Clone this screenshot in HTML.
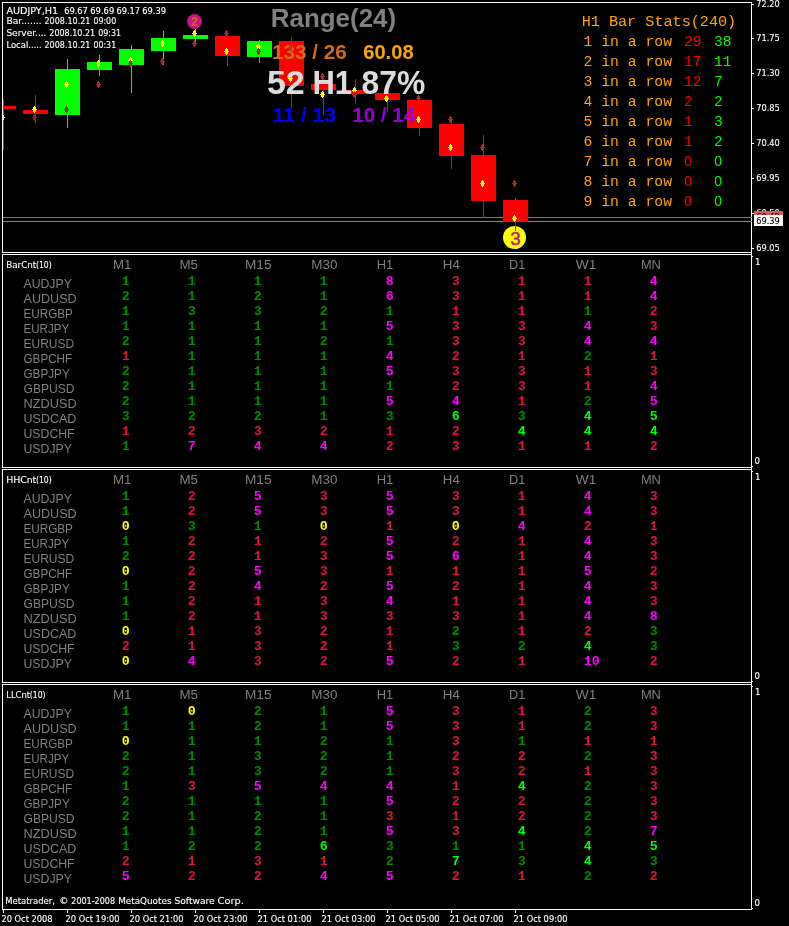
<!DOCTYPE html>
<html><head><meta charset="utf-8"><title>AUDJPY,H1</title>
<style>
html,body{margin:0;padding:0;background:#000;overflow:hidden}
svg{display:block;will-change:transform}
text{white-space:pre}
.t{font-family:"DejaVu Sans Condensed","Liberation Sans",sans-serif;font-size:9.5px;stroke-width:0.12px}
.a{font-family:"Liberation Sans",sans-serif}
.ab{font-family:"Liberation Sans",sans-serif;font-weight:bold}
.m{font-family:"Liberation Mono",monospace;font-size:14.67px}
.n{font-family:"Liberation Mono",monospace;font-weight:bold;font-size:13.33px}
</style></head>
<body>
<svg width="789" height="926" viewBox="0 0 789 926">
<rect width="789" height="926" fill="#000"/>
<g shape-rendering="crispEdges">
<rect x="2" y="2" width="1" height="908" fill="#fff"/>
<rect x="751" y="2" width="1" height="908" fill="#fff"/>
<rect x="2" y="2" width="750" height="1" fill="#fff"/>
<rect x="2" y="252" width="750" height="1" fill="#fff"/>
<rect x="2" y="254" width="750" height="1" fill="#fff"/>
<rect x="2" y="467" width="750" height="1" fill="#fff"/>
<rect x="2" y="469" width="750" height="1" fill="#fff"/>
<rect x="2" y="682" width="750" height="1" fill="#fff"/>
<rect x="2" y="684" width="750" height="1" fill="#fff"/>
<rect x="2" y="909" width="750" height="1" fill="#fff"/>
<rect x="2" y="253" width="1" height="1" fill="#000"/>
<rect x="2" y="468" width="1" height="1" fill="#000"/>
<rect x="2" y="683" width="1" height="1" fill="#000"/>
<rect x="752" y="4" width="2" height="1" fill="#fff"/>
<rect x="752" y="38" width="2" height="1" fill="#fff"/>
<rect x="752" y="73" width="2" height="1" fill="#fff"/>
<rect x="752" y="108" width="2" height="1" fill="#fff"/>
<rect x="752" y="143" width="2" height="1" fill="#fff"/>
<rect x="752" y="178" width="2" height="1" fill="#fff"/>
<rect x="752" y="213" width="2" height="1" fill="#fff"/>
<rect x="752" y="248" width="2" height="1" fill="#fff"/>
<rect x="752" y="256" width="1" height="1" fill="#fff"/>
<rect x="752" y="466" width="1" height="1" fill="#fff"/>
<rect x="752" y="471" width="1" height="1" fill="#fff"/>
<rect x="752" y="681" width="1" height="1" fill="#fff"/>
<rect x="752" y="686" width="1" height="1" fill="#fff"/>
<rect x="752" y="908" width="1" height="1" fill="#fff"/>
<rect x="3" y="910" width="1" height="3" fill="#fff"/>
<rect x="67" y="910" width="1" height="3" fill="#fff"/>
<rect x="131" y="910" width="1" height="3" fill="#fff"/>
<rect x="195" y="910" width="1" height="3" fill="#fff"/>
<rect x="259" y="910" width="1" height="3" fill="#fff"/>
<rect x="323" y="910" width="1" height="3" fill="#fff"/>
<rect x="387" y="910" width="1" height="3" fill="#fff"/>
<rect x="451" y="910" width="1" height="3" fill="#fff"/>
<rect x="515" y="910" width="1" height="3" fill="#fff"/>
</g>
<g shape-rendering="crispEdges">
<rect x="3" y="217" width="749" height="1" fill="#c8585c"/>
<rect x="3" y="221" width="749" height="1" fill="#778899"/>
</g>
<clipPath id="cp"><rect x="3" y="3" width="748" height="249"/></clipPath>
<g clip-path="url(#cp)">
<g shape-rendering="crispEdges">
<rect x="3" y="99" width="1" height="51" fill="#ff0000"/>
<rect x="3" y="106" width="13" height="3" fill="#ff0000"/>
<rect x="35" y="95" width="1" height="28" fill="#ff0000"/>
<rect x="23" y="110" width="25" height="4" fill="#ff0000"/>
<rect x="67" y="59" width="1" height="69" fill="#00ff00"/>
<rect x="55" y="69" width="25" height="46" fill="#00ff00"/>
<rect x="99" y="55" width="1" height="21" fill="#00ff00"/>
<rect x="87" y="62" width="25" height="8" fill="#00ff00"/>
<rect x="131" y="45" width="1" height="48" fill="#00ff00"/>
<rect x="119" y="49" width="25" height="16" fill="#00ff00"/>
<rect x="163" y="31" width="1" height="34" fill="#00ff00"/>
<rect x="151" y="38" width="25" height="13" fill="#00ff00"/>
<rect x="195" y="29" width="1" height="12" fill="#00ff00"/>
<rect x="183" y="35" width="25" height="4" fill="#00ff00"/>
<rect x="227" y="33" width="1" height="33" fill="#ff0000"/>
<rect x="215" y="36" width="25" height="20" fill="#ff0000"/>
<rect x="259" y="40" width="1" height="23" fill="#00ff00"/>
<rect x="247" y="41" width="25" height="16" fill="#00ff00"/>
<rect x="291" y="37" width="1" height="72" fill="#ff0000"/>
<rect x="279" y="41" width="25" height="45" fill="#ff0000"/>
<rect x="323" y="77" width="1" height="38" fill="#ff0000"/>
<rect x="311" y="84" width="25" height="6" fill="#ff0000"/>
<rect x="355" y="79" width="1" height="25" fill="#ff0000"/>
<rect x="343" y="90" width="25" height="4" fill="#ff0000"/>
<rect x="387" y="90" width="1" height="22" fill="#ff0000"/>
<rect x="375" y="93" width="25" height="7" fill="#ff0000"/>
<rect x="419" y="99" width="1" height="37" fill="#ff0000"/>
<rect x="407" y="100" width="25" height="28" fill="#ff0000"/>
<rect x="451" y="119" width="1" height="50" fill="#ff0000"/>
<rect x="439" y="124" width="25" height="32" fill="#ff0000"/>
<rect x="483" y="135" width="1" height="83" fill="#ff0000"/>
<rect x="471" y="155" width="25" height="46" fill="#ff0000"/>
<rect x="515" y="198" width="1" height="29" fill="#ff0000"/>
<rect x="503" y="200" width="25" height="22" fill="#ff0000"/>
</g>
<path shape-rendering="crispEdges" fill="#ffff00" d="M290 75h1v1h1v2h1v1h-1v2h-1v1h-1v-1h-1v-2h-1v-1h1v-2h1z"/>
<text x="270.8" y="26.8" class="ab" fill="#808080" textLength="125.3" lengthAdjust="spacingAndGlyphs" font-size="26.5">Range(24)</text>
<text x="272.1" y="59" class="ab" fill="#d2691e" textLength="74.7" lengthAdjust="spacingAndGlyphs" font-size="21">133 / 26</text>
<text x="363.2" y="59" class="ab" fill="#ffa500" textLength="50.4" lengthAdjust="spacingAndGlyphs" font-size="21">60.08</text>
<text x="266.9" y="94" class="ab" fill="#dcdcdc" textLength="37.8" lengthAdjust="spacingAndGlyphs" font-size="34">52</text>
<text x="312.5" y="94" class="ab" fill="#dcdcdc" textLength="39.6" lengthAdjust="spacingAndGlyphs" font-size="34">H1</text>
<text x="361.5" y="94" class="ab" fill="#dcdcdc" textLength="63.7" lengthAdjust="spacingAndGlyphs" font-size="34">87%</text>
<text x="272.4" y="122" class="ab" fill="#0000ff" textLength="63.6" lengthAdjust="spacingAndGlyphs" font-size="21">11 / 13</text>
<text x="352.2" y="122" class="ab" fill="#9400d3" textLength="63" lengthAdjust="spacingAndGlyphs" font-size="21">10 / 14</text>
<path shape-rendering="crispEdges" fill="#a52a2a" d="M2 99h1v1h1v2h1v1h-1v2h-1v1h-1v-1h-1v-2h-1v-1h1v-2h1z"/>
<path shape-rendering="crispEdges" fill="#ffff00" d="M2 114h1v1h1v2h1v1h-1v2h-1v1h-1v-1h-1v-2h-1v-1h1v-2h1z"/>
<path shape-rendering="crispEdges" fill="#8b2525" d="M34 114h1v1h1v2h1v1h-1v2h-1v1h-1v-1h-1v-2h-1v-1h1v-2h1z"/>
<path shape-rendering="crispEdges" fill="#ffff00" d="M34 106h1v1h1v2h1v1h-1v2h-1v1h-1v-1h-1v-2h-1v-1h1v-2h1z"/>
<path shape-rendering="crispEdges" fill="#ffff00" d="M66 81h1v1h1v2h1v1h-1v2h-1v1h-1v-1h-1v-2h-1v-1h1v-2h1z"/>
<path shape-rendering="crispEdges" fill="#a52a2a" d="M66 106h1v1h1v2h1v1h-1v2h-1v1h-1v-1h-1v-2h-1v-1h1v-2h1z"/>
<path shape-rendering="crispEdges" fill="#ffff00" d="M98 60h1v1h1v2h1v1h-1v2h-1v1h-1v-1h-1v-2h-1v-1h1v-2h1z"/>
<path shape-rendering="crispEdges" fill="#a52a2a" d="M98 81h1v1h1v2h1v1h-1v2h-1v1h-1v-1h-1v-2h-1v-1h1v-2h1z"/>
<path shape-rendering="crispEdges" fill="#ffff00" d="M130 57h1v1h1v2h1v1h-1v2h-1v1h-1v-1h-1v-2h-1v-1h1v-2h1z"/>
<path shape-rendering="crispEdges" fill="#a52a2a" d="M130 60h1v1h1v2h1v1h-1v2h-1v1h-1v-1h-1v-2h-1v-1h1v-2h1z"/>
<path shape-rendering="crispEdges" fill="#ffff00" d="M162 40h1v1h1v2h1v1h-1v2h-1v1h-1v-1h-1v-2h-1v-1h1v-2h1z"/>
<path shape-rendering="crispEdges" fill="#a52a2a" d="M162 58h1v1h1v2h1v1h-1v2h-1v1h-1v-1h-1v-2h-1v-1h1v-2h1z"/>
<path shape-rendering="crispEdges" fill="#ffff00" d="M194 30h1v1h1v2h1v1h-1v2h-1v1h-1v-1h-1v-2h-1v-1h1v-2h1z"/>
<path shape-rendering="crispEdges" fill="#a52a2a" d="M194 40h1v1h1v2h1v1h-1v2h-1v1h-1v-1h-1v-2h-1v-1h1v-2h1z"/>
<path shape-rendering="crispEdges" fill="#a52a2a" d="M226 30h1v1h1v2h1v1h-1v2h-1v1h-1v-1h-1v-2h-1v-1h1v-2h1z"/>
<path shape-rendering="crispEdges" fill="#ffff00" d="M226 48h1v1h1v2h1v1h-1v2h-1v1h-1v-1h-1v-2h-1v-1h1v-2h1z"/>
<path shape-rendering="crispEdges" fill="#ffff00" d="M258 43h1v1h1v2h1v1h-1v2h-1v1h-1v-1h-1v-2h-1v-1h1v-2h1z"/>
<path shape-rendering="crispEdges" fill="#a52a2a" d="M258 48h1v1h1v2h1v1h-1v2h-1v1h-1v-1h-1v-2h-1v-1h1v-2h1z"/>
<path shape-rendering="crispEdges" fill="#b03a30" d="M290 44h1v1h1v2h1v1h-1v2h-1v1h-1v-1h-1v-2h-1v-1h1v-2h1z"/>
<path shape-rendering="crispEdges" fill="#a52a2a" d="M322 73h1v1h1v2h1v1h-1v2h-1v1h-1v-1h-1v-2h-1v-1h1v-2h1z"/>
<path shape-rendering="crispEdges" fill="#ffff00" d="M322 91h1v1h1v2h1v1h-1v2h-1v1h-1v-1h-1v-2h-1v-1h1v-2h1z"/>
<path shape-rendering="crispEdges" fill="#ffff00" d="M354 87h1v1h1v2h1v1h-1v2h-1v1h-1v-1h-1v-2h-1v-1h1v-2h1z"/>
<path shape-rendering="crispEdges" fill="#a52a2a" d="M354 91h1v1h1v2h1v1h-1v2h-1v1h-1v-1h-1v-2h-1v-1h1v-2h1z"/>
<path shape-rendering="crispEdges" fill="#ffff00" d="M386 95h1v1h1v2h1v1h-1v2h-1v1h-1v-1h-1v-2h-1v-1h1v-2h1z"/>
<path shape-rendering="crispEdges" fill="#a52a2a" d="M418 95h1v1h1v2h1v1h-1v2h-1v1h-1v-1h-1v-2h-1v-1h1v-2h1z"/>
<path shape-rendering="crispEdges" fill="#ffff00" d="M418 116h1v1h1v2h1v1h-1v2h-1v1h-1v-1h-1v-2h-1v-1h1v-2h1z"/>
<path shape-rendering="crispEdges" fill="#a52a2a" d="M450 116h1v1h1v2h1v1h-1v2h-1v1h-1v-1h-1v-2h-1v-1h1v-2h1z"/>
<path shape-rendering="crispEdges" fill="#ffff00" d="M450 144h1v1h1v2h1v1h-1v2h-1v1h-1v-1h-1v-2h-1v-1h1v-2h1z"/>
<path shape-rendering="crispEdges" fill="#a52a2a" d="M482 144h1v1h1v2h1v1h-1v2h-1v1h-1v-1h-1v-2h-1v-1h1v-2h1z"/>
<path shape-rendering="crispEdges" fill="#ffff00" d="M482 180h1v1h1v2h1v1h-1v2h-1v1h-1v-1h-1v-2h-1v-1h1v-2h1z"/>
<path shape-rendering="crispEdges" fill="#a52a2a" d="M514 180h1v1h1v2h1v1h-1v2h-1v1h-1v-1h-1v-2h-1v-1h1v-2h1z"/>
<path shape-rendering="crispEdges" fill="#ffff00" d="M514 215h1v1h1v2h1v1h-1v2h-1v1h-1v-1h-1v-2h-1v-1h1v-2h1z"/>
</g>
<circle cx="194.5" cy="21.5" r="7.5" fill="#c71585"/>
<text x="194.5" y="26" class="ab" fill="#d2691e" text-anchor="middle" font-size="12">2</text>
<circle cx="514.5" cy="237.5" r="11.5" fill="#ffff00"/>
<rect shape-rendering="crispEdges" x="515" y="226" width="1" height="5" fill="#ff0000"/>
<text x="515.5" y="244.5" class="a" fill="#c71585" text-anchor="middle" font-size="19" stroke="#c71585" stroke-width="0.5">3</text>
<text x="6.4" y="14" class="t" fill="#fff" stroke="#fff" textLength="51.8" lengthAdjust="spacingAndGlyphs">AUDJPY,H1</text>
<text x="64.2" y="14" class="t" fill="#fff" stroke="#fff" textLength="23.7" lengthAdjust="spacingAndGlyphs">69.67</text>
<text x="90.3" y="14" class="t" fill="#fff" stroke="#fff" textLength="23.9" lengthAdjust="spacingAndGlyphs">69.69</text>
<text x="116.5" y="14" class="t" fill="#fff" stroke="#fff" textLength="23.6" lengthAdjust="spacingAndGlyphs">69.17</text>
<text x="142.3" y="14" class="t" fill="#fff" stroke="#fff" textLength="23.6" lengthAdjust="spacingAndGlyphs">69.39</text>
<text x="6.4" y="24" class="t" fill="#fff" stroke="#fff" textLength="35.3" lengthAdjust="spacingAndGlyphs">Bar.......</text>
<text x="44.5" y="24" class="t" fill="#fff" stroke="#fff" textLength="45.9" lengthAdjust="spacingAndGlyphs">2008.10.21</text>
<text x="93.4" y="24" class="t" fill="#fff" stroke="#fff" textLength="22.8" lengthAdjust="spacingAndGlyphs">09:00</text>
<text x="6.4" y="36" class="t" fill="#fff" stroke="#fff" textLength="40.1" lengthAdjust="spacingAndGlyphs">Server....</text>
<text x="49.3" y="36" class="t" fill="#fff" stroke="#fff" textLength="45.9" lengthAdjust="spacingAndGlyphs">2008.10.21</text>
<text x="98.2" y="36" class="t" fill="#fff" stroke="#fff" textLength="22.8" lengthAdjust="spacingAndGlyphs">09:31</text>
<text x="6.4" y="48" class="t" fill="#fff" stroke="#fff" textLength="35.3" lengthAdjust="spacingAndGlyphs">Local.....</text>
<text x="44.5" y="48" class="t" fill="#fff" stroke="#fff" textLength="45.9" lengthAdjust="spacingAndGlyphs">2008.10.21</text>
<text x="93.4" y="48" class="t" fill="#fff" stroke="#fff" textLength="22.8" lengthAdjust="spacingAndGlyphs">00:31</text>
<text x="581.7" y="26" class="m" fill="#ffa500" textLength="154.5" lengthAdjust="spacingAndGlyphs">H1 Bar Stats(240)</text>
<text x="583.5" y="46" class="m" fill="#ffa500" textLength="88.5" lengthAdjust="spacingAndGlyphs">1 in a row</text>
<text x="684" y="46" class="m" fill="#ff0000">29</text>
<text x="714" y="46" class="m" fill="#00ff00">38</text>
<text x="583.5" y="66" class="m" fill="#ffa500" textLength="88.5" lengthAdjust="spacingAndGlyphs">2 in a row</text>
<text x="684" y="66" class="m" fill="#ff0000">17</text>
<text x="714" y="66" class="m" fill="#00ff00">11</text>
<text x="583.5" y="86" class="m" fill="#ffa500" textLength="88.5" lengthAdjust="spacingAndGlyphs">3 in a row</text>
<text x="684" y="86" class="m" fill="#ff0000">12</text>
<text x="714" y="86" class="m" fill="#00ff00">7</text>
<text x="583.5" y="106" class="m" fill="#ffa500" textLength="88.5" lengthAdjust="spacingAndGlyphs">4 in a row</text>
<text x="684" y="106" class="m" fill="#ff0000">2</text>
<text x="714" y="106" class="m" fill="#00ff00">2</text>
<text x="583.5" y="126" class="m" fill="#ffa500" textLength="88.5" lengthAdjust="spacingAndGlyphs">5 in a row</text>
<text x="684" y="126" class="m" fill="#ff0000">1</text>
<text x="714" y="126" class="m" fill="#00ff00">3</text>
<text x="583.5" y="146" class="m" fill="#ffa500" textLength="88.5" lengthAdjust="spacingAndGlyphs">6 in a row</text>
<text x="684" y="146" class="m" fill="#ff0000">1</text>
<text x="714" y="146" class="m" fill="#00ff00">2</text>
<text x="583.5" y="166" class="m" fill="#ffa500" textLength="88.5" lengthAdjust="spacingAndGlyphs">7 in a row</text>
<text x="684.2" y="166" class="a" fill="#ff0000" font-size="14">0</text>
<text x="714.2" y="166" class="a" fill="#00ff00" font-size="14">0</text>
<text x="583.5" y="186" class="m" fill="#ffa500" textLength="88.5" lengthAdjust="spacingAndGlyphs">8 in a row</text>
<text x="684.2" y="186" class="a" fill="#ff0000" font-size="14">0</text>
<text x="714.2" y="186" class="a" fill="#00ff00" font-size="14">0</text>
<text x="583.5" y="206" class="m" fill="#ffa500" textLength="88.5" lengthAdjust="spacingAndGlyphs">9 in a row</text>
<text x="684.2" y="206" class="a" fill="#ff0000" font-size="14">0</text>
<text x="714.2" y="206" class="a" fill="#00ff00" font-size="14">0</text>
<text x="756.3" y="7" class="t" fill="#fff" stroke="#fff" textLength="23.5" lengthAdjust="spacingAndGlyphs">72.20</text>
<text x="756.3" y="41" class="t" fill="#fff" stroke="#fff" textLength="23.5" lengthAdjust="spacingAndGlyphs">71.75</text>
<text x="756.3" y="76" class="t" fill="#fff" stroke="#fff" textLength="23.5" lengthAdjust="spacingAndGlyphs">71.30</text>
<text x="756.3" y="111" class="t" fill="#fff" stroke="#fff" textLength="23.5" lengthAdjust="spacingAndGlyphs">70.85</text>
<text x="756.3" y="146" class="t" fill="#fff" stroke="#fff" textLength="23.5" lengthAdjust="spacingAndGlyphs">70.40</text>
<text x="756.3" y="181" class="t" fill="#fff" stroke="#fff" textLength="23.5" lengthAdjust="spacingAndGlyphs">69.95</text>
<text x="756.3" y="216" class="t" fill="#fff" stroke="#fff" textLength="23.5" lengthAdjust="spacingAndGlyphs">69.50</text>
<text x="756.3" y="251" class="t" fill="#fff" stroke="#fff" textLength="23.5" lengthAdjust="spacingAndGlyphs">69.05</text>
<g shape-rendering="crispEdges">
<rect x="754" y="211" width="29" height="11" fill="#d85c5c"/>
</g>
<text x="756.3" y="220" class="t" fill="#000" stroke="#000" textLength="23.5" lengthAdjust="spacingAndGlyphs">69.42</text>
<g shape-rendering="crispEdges">
<rect x="754" y="215" width="29" height="11" fill="#ffffff"/>
</g>
<text x="756.3" y="224" class="t" fill="#000" stroke="#000" textLength="23.5" lengthAdjust="spacingAndGlyphs">69.39</text>
<text x="6.2" y="268" class="t" fill="#fff" stroke="#fff" textLength="30.1" lengthAdjust="spacingAndGlyphs">BarCnt</text>
<text x="36.0" y="268" class="t" fill="#fff" stroke="#fff" textLength="15.7" lengthAdjust="spacingAndGlyphs">(10)</text>
<text x="113.0" y="268.7" class="a" fill="#808080" textLength="18.4" lengthAdjust="spacingAndGlyphs" font-size="12">M1</text>
<text x="179.5" y="268.7" class="a" fill="#808080" textLength="18.5" lengthAdjust="spacingAndGlyphs" font-size="12">M5</text>
<text x="245.0" y="268.7" class="a" fill="#808080" textLength="26.5" lengthAdjust="spacingAndGlyphs" font-size="12">M15</text>
<text x="311.3" y="268.7" class="a" fill="#808080" textLength="26.2" lengthAdjust="spacingAndGlyphs" font-size="12">M30</text>
<text x="376.7" y="268.7" class="a" fill="#808080" textLength="16.6" lengthAdjust="spacingAndGlyphs" font-size="12">H1</text>
<text x="442.8" y="268.7" class="a" fill="#808080" textLength="17" lengthAdjust="spacingAndGlyphs" font-size="12">H4</text>
<text x="509" y="268.7" class="a" fill="#808080" textLength="16.3" lengthAdjust="spacingAndGlyphs" font-size="12">D1</text>
<text x="575.8" y="268.7" class="a" fill="#808080" textLength="20.5" lengthAdjust="spacingAndGlyphs" font-size="12">W1</text>
<text x="640.9" y="268.7" class="a" fill="#808080" textLength="20" lengthAdjust="spacingAndGlyphs" font-size="12">MN</text>
<text x="23.5" y="287.8" class="a" fill="#808080" textLength="48.3" lengthAdjust="spacingAndGlyphs" font-size="12">AUDJPY</text>
<text x="23.5" y="302.8" class="a" fill="#808080" textLength="53.1" lengthAdjust="spacingAndGlyphs" font-size="12">AUDUSD</text>
<text x="23.5" y="317.8" class="a" fill="#808080" textLength="49.4" lengthAdjust="spacingAndGlyphs" font-size="12">EURGBP</text>
<text x="23.5" y="332.8" class="a" fill="#808080" textLength="45.6" lengthAdjust="spacingAndGlyphs" font-size="12">EURJPY</text>
<text x="23.5" y="347.8" class="a" fill="#808080" textLength="50.7" lengthAdjust="spacingAndGlyphs" font-size="12">EURUSD</text>
<text x="23.5" y="362.8" class="a" fill="#808080" textLength="48.7" lengthAdjust="spacingAndGlyphs" font-size="12">GBPCHF</text>
<text x="23.5" y="377.8" class="a" fill="#808080" textLength="46.2" lengthAdjust="spacingAndGlyphs" font-size="12">GBPJPY</text>
<text x="23.5" y="392.8" class="a" fill="#808080" textLength="51.1" lengthAdjust="spacingAndGlyphs" font-size="12">GBPUSD</text>
<text x="23.5" y="407.8" class="a" fill="#808080" textLength="53.2" lengthAdjust="spacingAndGlyphs" font-size="12">NZDUSD</text>
<text x="23.5" y="422.8" class="a" fill="#808080" textLength="52.9" lengthAdjust="spacingAndGlyphs" font-size="12">USDCAD</text>
<text x="23.5" y="437.8" class="a" fill="#808080" textLength="51.1" lengthAdjust="spacingAndGlyphs" font-size="12">USDCHF</text>
<text x="23.5" y="452.8" class="a" fill="#808080" textLength="48.4" lengthAdjust="spacingAndGlyphs" font-size="12">USDJPY</text>
<text x="121.7" y="285" class="n" fill="#008a00">1</text>
<text x="121.7" y="300" class="n" fill="#008a00">2</text>
<text x="121.7" y="315" class="n" fill="#008a00">1</text>
<text x="121.7" y="330" class="n" fill="#008a00">1</text>
<text x="121.7" y="345" class="n" fill="#008a00">2</text>
<text x="121.7" y="360" class="n" fill="#dc143c">1</text>
<text x="121.7" y="375" class="n" fill="#008a00">2</text>
<text x="121.7" y="390" class="n" fill="#008a00">2</text>
<text x="121.7" y="405" class="n" fill="#008a00">2</text>
<text x="121.7" y="420" class="n" fill="#008a00">3</text>
<text x="121.7" y="435" class="n" fill="#dc143c">1</text>
<text x="121.7" y="450" class="n" fill="#008a00">1</text>
<text x="187.7" y="285" class="n" fill="#008a00">1</text>
<text x="187.7" y="300" class="n" fill="#008a00">1</text>
<text x="187.7" y="315" class="n" fill="#008a00">3</text>
<text x="187.7" y="330" class="n" fill="#008a00">1</text>
<text x="187.7" y="345" class="n" fill="#008a00">1</text>
<text x="187.7" y="360" class="n" fill="#008a00">1</text>
<text x="187.7" y="375" class="n" fill="#008a00">1</text>
<text x="187.7" y="390" class="n" fill="#008a00">1</text>
<text x="187.7" y="405" class="n" fill="#008a00">1</text>
<text x="187.7" y="420" class="n" fill="#008a00">2</text>
<text x="187.7" y="435" class="n" fill="#dc143c">2</text>
<text x="187.7" y="450" class="n" fill="#ff00ff">7</text>
<text x="253.7" y="285" class="n" fill="#008a00">1</text>
<text x="253.7" y="300" class="n" fill="#008a00">2</text>
<text x="253.7" y="315" class="n" fill="#008a00">3</text>
<text x="253.7" y="330" class="n" fill="#008a00">1</text>
<text x="253.7" y="345" class="n" fill="#008a00">1</text>
<text x="253.7" y="360" class="n" fill="#008a00">1</text>
<text x="253.7" y="375" class="n" fill="#008a00">1</text>
<text x="253.7" y="390" class="n" fill="#008a00">1</text>
<text x="253.7" y="405" class="n" fill="#008a00">1</text>
<text x="253.7" y="420" class="n" fill="#008a00">2</text>
<text x="253.7" y="435" class="n" fill="#dc143c">3</text>
<text x="253.7" y="450" class="n" fill="#ff00ff">4</text>
<text x="319.7" y="285" class="n" fill="#008a00">1</text>
<text x="319.7" y="300" class="n" fill="#008a00">1</text>
<text x="319.7" y="315" class="n" fill="#008a00">2</text>
<text x="319.7" y="330" class="n" fill="#008a00">1</text>
<text x="319.7" y="345" class="n" fill="#008a00">2</text>
<text x="319.7" y="360" class="n" fill="#008a00">1</text>
<text x="319.7" y="375" class="n" fill="#008a00">1</text>
<text x="319.7" y="390" class="n" fill="#008a00">1</text>
<text x="319.7" y="405" class="n" fill="#008a00">1</text>
<text x="319.7" y="420" class="n" fill="#008a00">1</text>
<text x="319.7" y="435" class="n" fill="#dc143c">2</text>
<text x="319.7" y="450" class="n" fill="#ff00ff">4</text>
<text x="385.7" y="285" class="n" fill="#ff00ff">8</text>
<text x="385.7" y="300" class="n" fill="#ff00ff">6</text>
<text x="385.7" y="315" class="n" fill="#008a00">1</text>
<text x="385.7" y="330" class="n" fill="#ff00ff">5</text>
<text x="385.7" y="345" class="n" fill="#008a00">1</text>
<text x="385.7" y="360" class="n" fill="#ff00ff">4</text>
<text x="385.7" y="375" class="n" fill="#ff00ff">5</text>
<text x="385.7" y="390" class="n" fill="#008a00">1</text>
<text x="385.7" y="405" class="n" fill="#ff00ff">5</text>
<text x="385.7" y="420" class="n" fill="#008a00">3</text>
<text x="385.7" y="435" class="n" fill="#dc143c">1</text>
<text x="385.7" y="450" class="n" fill="#dc143c">2</text>
<text x="451.7" y="285" class="n" fill="#dc143c">3</text>
<text x="451.7" y="300" class="n" fill="#dc143c">3</text>
<text x="451.7" y="315" class="n" fill="#dc143c">1</text>
<text x="451.7" y="330" class="n" fill="#dc143c">3</text>
<text x="451.7" y="345" class="n" fill="#dc143c">3</text>
<text x="451.7" y="360" class="n" fill="#dc143c">2</text>
<text x="451.7" y="375" class="n" fill="#dc143c">3</text>
<text x="451.7" y="390" class="n" fill="#dc143c">2</text>
<text x="451.7" y="405" class="n" fill="#ff00ff">4</text>
<text x="451.7" y="420" class="n" fill="#00ff00">6</text>
<text x="451.7" y="435" class="n" fill="#dc143c">2</text>
<text x="451.7" y="450" class="n" fill="#dc143c">3</text>
<text x="517.7" y="285" class="n" fill="#dc143c">1</text>
<text x="517.7" y="300" class="n" fill="#dc143c">1</text>
<text x="517.7" y="315" class="n" fill="#dc143c">1</text>
<text x="517.7" y="330" class="n" fill="#dc143c">3</text>
<text x="517.7" y="345" class="n" fill="#dc143c">3</text>
<text x="517.7" y="360" class="n" fill="#dc143c">1</text>
<text x="517.7" y="375" class="n" fill="#dc143c">3</text>
<text x="517.7" y="390" class="n" fill="#dc143c">3</text>
<text x="517.7" y="405" class="n" fill="#dc143c">1</text>
<text x="517.7" y="420" class="n" fill="#008a00">3</text>
<text x="517.7" y="435" class="n" fill="#00ff00">4</text>
<text x="517.7" y="450" class="n" fill="#dc143c">1</text>
<text x="583.7" y="285" class="n" fill="#dc143c">1</text>
<text x="583.7" y="300" class="n" fill="#dc143c">1</text>
<text x="583.7" y="315" class="n" fill="#008a00">1</text>
<text x="583.7" y="330" class="n" fill="#ff00ff">4</text>
<text x="583.7" y="345" class="n" fill="#ff00ff">4</text>
<text x="583.7" y="360" class="n" fill="#008a00">2</text>
<text x="583.7" y="375" class="n" fill="#dc143c">1</text>
<text x="583.7" y="390" class="n" fill="#dc143c">1</text>
<text x="583.7" y="405" class="n" fill="#008a00">2</text>
<text x="583.7" y="420" class="n" fill="#00ff00">4</text>
<text x="583.7" y="435" class="n" fill="#00ff00">4</text>
<text x="583.7" y="450" class="n" fill="#dc143c">1</text>
<text x="649.7" y="285" class="n" fill="#ff00ff">4</text>
<text x="649.7" y="300" class="n" fill="#ff00ff">4</text>
<text x="649.7" y="315" class="n" fill="#dc143c">2</text>
<text x="649.7" y="330" class="n" fill="#dc143c">3</text>
<text x="649.7" y="345" class="n" fill="#ff00ff">4</text>
<text x="649.7" y="360" class="n" fill="#dc143c">1</text>
<text x="649.7" y="375" class="n" fill="#dc143c">3</text>
<text x="649.7" y="390" class="n" fill="#ff00ff">4</text>
<text x="649.7" y="405" class="n" fill="#ff00ff">5</text>
<text x="649.7" y="420" class="n" fill="#00ff00">5</text>
<text x="649.7" y="435" class="n" fill="#00ff00">4</text>
<text x="649.7" y="450" class="n" fill="#dc143c">2</text>
<text x="6.2" y="483" class="t" fill="#fff" stroke="#fff" textLength="30.1" lengthAdjust="spacingAndGlyphs">HHCnt</text>
<text x="36.0" y="483" class="t" fill="#fff" stroke="#fff" textLength="15.7" lengthAdjust="spacingAndGlyphs">(10)</text>
<text x="113.0" y="483.7" class="a" fill="#808080" textLength="18.4" lengthAdjust="spacingAndGlyphs" font-size="12">M1</text>
<text x="179.5" y="483.7" class="a" fill="#808080" textLength="18.5" lengthAdjust="spacingAndGlyphs" font-size="12">M5</text>
<text x="245.0" y="483.7" class="a" fill="#808080" textLength="26.5" lengthAdjust="spacingAndGlyphs" font-size="12">M15</text>
<text x="311.3" y="483.7" class="a" fill="#808080" textLength="26.2" lengthAdjust="spacingAndGlyphs" font-size="12">M30</text>
<text x="376.7" y="483.7" class="a" fill="#808080" textLength="16.6" lengthAdjust="spacingAndGlyphs" font-size="12">H1</text>
<text x="442.8" y="483.7" class="a" fill="#808080" textLength="17" lengthAdjust="spacingAndGlyphs" font-size="12">H4</text>
<text x="509" y="483.7" class="a" fill="#808080" textLength="16.3" lengthAdjust="spacingAndGlyphs" font-size="12">D1</text>
<text x="575.8" y="483.7" class="a" fill="#808080" textLength="20.5" lengthAdjust="spacingAndGlyphs" font-size="12">W1</text>
<text x="640.9" y="483.7" class="a" fill="#808080" textLength="20" lengthAdjust="spacingAndGlyphs" font-size="12">MN</text>
<text x="23.5" y="502.8" class="a" fill="#808080" textLength="48.3" lengthAdjust="spacingAndGlyphs" font-size="12">AUDJPY</text>
<text x="23.5" y="517.8" class="a" fill="#808080" textLength="53.1" lengthAdjust="spacingAndGlyphs" font-size="12">AUDUSD</text>
<text x="23.5" y="532.8" class="a" fill="#808080" textLength="49.4" lengthAdjust="spacingAndGlyphs" font-size="12">EURGBP</text>
<text x="23.5" y="547.8" class="a" fill="#808080" textLength="45.6" lengthAdjust="spacingAndGlyphs" font-size="12">EURJPY</text>
<text x="23.5" y="562.8" class="a" fill="#808080" textLength="50.7" lengthAdjust="spacingAndGlyphs" font-size="12">EURUSD</text>
<text x="23.5" y="577.8" class="a" fill="#808080" textLength="48.7" lengthAdjust="spacingAndGlyphs" font-size="12">GBPCHF</text>
<text x="23.5" y="592.8" class="a" fill="#808080" textLength="46.2" lengthAdjust="spacingAndGlyphs" font-size="12">GBPJPY</text>
<text x="23.5" y="607.8" class="a" fill="#808080" textLength="51.1" lengthAdjust="spacingAndGlyphs" font-size="12">GBPUSD</text>
<text x="23.5" y="622.8" class="a" fill="#808080" textLength="53.2" lengthAdjust="spacingAndGlyphs" font-size="12">NZDUSD</text>
<text x="23.5" y="637.8" class="a" fill="#808080" textLength="52.9" lengthAdjust="spacingAndGlyphs" font-size="12">USDCAD</text>
<text x="23.5" y="652.8" class="a" fill="#808080" textLength="51.1" lengthAdjust="spacingAndGlyphs" font-size="12">USDCHF</text>
<text x="23.5" y="667.8" class="a" fill="#808080" textLength="48.4" lengthAdjust="spacingAndGlyphs" font-size="12">USDJPY</text>
<text x="121.7" y="500" class="n" fill="#008a00">1</text>
<text x="121.7" y="515" class="n" fill="#008a00">1</text>
<text x="121.7" y="530" class="n" fill="#ffff00">0</text>
<text x="121.7" y="545" class="n" fill="#008a00">1</text>
<text x="121.7" y="560" class="n" fill="#008a00">2</text>
<text x="121.7" y="575" class="n" fill="#ffff00">0</text>
<text x="121.7" y="590" class="n" fill="#008a00">1</text>
<text x="121.7" y="605" class="n" fill="#008a00">1</text>
<text x="121.7" y="620" class="n" fill="#008a00">1</text>
<text x="121.7" y="635" class="n" fill="#ffff00">0</text>
<text x="121.7" y="650" class="n" fill="#dc143c">2</text>
<text x="121.7" y="665" class="n" fill="#ffff00">0</text>
<text x="187.7" y="500" class="n" fill="#dc143c">2</text>
<text x="187.7" y="515" class="n" fill="#dc143c">2</text>
<text x="187.7" y="530" class="n" fill="#008a00">3</text>
<text x="187.7" y="545" class="n" fill="#dc143c">2</text>
<text x="187.7" y="560" class="n" fill="#dc143c">2</text>
<text x="187.7" y="575" class="n" fill="#dc143c">2</text>
<text x="187.7" y="590" class="n" fill="#dc143c">2</text>
<text x="187.7" y="605" class="n" fill="#dc143c">2</text>
<text x="187.7" y="620" class="n" fill="#dc143c">2</text>
<text x="187.7" y="635" class="n" fill="#dc143c">1</text>
<text x="187.7" y="650" class="n" fill="#dc143c">1</text>
<text x="187.7" y="665" class="n" fill="#ff00ff">4</text>
<text x="253.7" y="500" class="n" fill="#ff00ff">5</text>
<text x="253.7" y="515" class="n" fill="#ff00ff">5</text>
<text x="253.7" y="530" class="n" fill="#008a00">1</text>
<text x="253.7" y="545" class="n" fill="#dc143c">1</text>
<text x="253.7" y="560" class="n" fill="#dc143c">1</text>
<text x="253.7" y="575" class="n" fill="#ff00ff">5</text>
<text x="253.7" y="590" class="n" fill="#ff00ff">4</text>
<text x="253.7" y="605" class="n" fill="#dc143c">1</text>
<text x="253.7" y="620" class="n" fill="#dc143c">1</text>
<text x="253.7" y="635" class="n" fill="#dc143c">3</text>
<text x="253.7" y="650" class="n" fill="#dc143c">3</text>
<text x="253.7" y="665" class="n" fill="#dc143c">3</text>
<text x="319.7" y="500" class="n" fill="#dc143c">3</text>
<text x="319.7" y="515" class="n" fill="#dc143c">3</text>
<text x="319.7" y="530" class="n" fill="#ffff00">0</text>
<text x="319.7" y="545" class="n" fill="#dc143c">2</text>
<text x="319.7" y="560" class="n" fill="#dc143c">3</text>
<text x="319.7" y="575" class="n" fill="#dc143c">3</text>
<text x="319.7" y="590" class="n" fill="#dc143c">2</text>
<text x="319.7" y="605" class="n" fill="#dc143c">3</text>
<text x="319.7" y="620" class="n" fill="#dc143c">3</text>
<text x="319.7" y="635" class="n" fill="#dc143c">2</text>
<text x="319.7" y="650" class="n" fill="#dc143c">2</text>
<text x="319.7" y="665" class="n" fill="#dc143c">2</text>
<text x="385.7" y="500" class="n" fill="#ff00ff">5</text>
<text x="385.7" y="515" class="n" fill="#ff00ff">5</text>
<text x="385.7" y="530" class="n" fill="#dc143c">1</text>
<text x="385.7" y="545" class="n" fill="#ff00ff">5</text>
<text x="385.7" y="560" class="n" fill="#ff00ff">5</text>
<text x="385.7" y="575" class="n" fill="#dc143c">1</text>
<text x="385.7" y="590" class="n" fill="#ff00ff">5</text>
<text x="385.7" y="605" class="n" fill="#ff00ff">4</text>
<text x="385.7" y="620" class="n" fill="#dc143c">3</text>
<text x="385.7" y="635" class="n" fill="#dc143c">1</text>
<text x="385.7" y="650" class="n" fill="#dc143c">1</text>
<text x="385.7" y="665" class="n" fill="#ff00ff">5</text>
<text x="451.7" y="500" class="n" fill="#dc143c">3</text>
<text x="451.7" y="515" class="n" fill="#dc143c">3</text>
<text x="451.7" y="530" class="n" fill="#ffff00">0</text>
<text x="451.7" y="545" class="n" fill="#dc143c">2</text>
<text x="451.7" y="560" class="n" fill="#ff00ff">6</text>
<text x="451.7" y="575" class="n" fill="#dc143c">1</text>
<text x="451.7" y="590" class="n" fill="#dc143c">2</text>
<text x="451.7" y="605" class="n" fill="#dc143c">1</text>
<text x="451.7" y="620" class="n" fill="#dc143c">3</text>
<text x="451.7" y="635" class="n" fill="#008a00">2</text>
<text x="451.7" y="650" class="n" fill="#008a00">3</text>
<text x="451.7" y="665" class="n" fill="#dc143c">2</text>
<text x="517.7" y="500" class="n" fill="#dc143c">1</text>
<text x="517.7" y="515" class="n" fill="#dc143c">1</text>
<text x="517.7" y="530" class="n" fill="#ff00ff">4</text>
<text x="517.7" y="545" class="n" fill="#dc143c">1</text>
<text x="517.7" y="560" class="n" fill="#dc143c">1</text>
<text x="517.7" y="575" class="n" fill="#dc143c">1</text>
<text x="517.7" y="590" class="n" fill="#dc143c">1</text>
<text x="517.7" y="605" class="n" fill="#dc143c">1</text>
<text x="517.7" y="620" class="n" fill="#dc143c">1</text>
<text x="517.7" y="635" class="n" fill="#dc143c">1</text>
<text x="517.7" y="650" class="n" fill="#008a00">2</text>
<text x="517.7" y="665" class="n" fill="#dc143c">1</text>
<text x="583.7" y="500" class="n" fill="#ff00ff">4</text>
<text x="583.7" y="515" class="n" fill="#ff00ff">4</text>
<text x="583.7" y="530" class="n" fill="#dc143c">2</text>
<text x="583.7" y="545" class="n" fill="#ff00ff">4</text>
<text x="583.7" y="560" class="n" fill="#ff00ff">4</text>
<text x="583.7" y="575" class="n" fill="#ff00ff">5</text>
<text x="583.7" y="590" class="n" fill="#ff00ff">4</text>
<text x="583.7" y="605" class="n" fill="#ff00ff">4</text>
<text x="583.7" y="620" class="n" fill="#ff00ff">4</text>
<text x="583.7" y="635" class="n" fill="#dc143c">2</text>
<text x="583.7" y="650" class="n" fill="#00ff00">4</text>
<text x="583.7" y="665" class="n" fill="#ff00ff">10</text>
<text x="649.7" y="500" class="n" fill="#dc143c">3</text>
<text x="649.7" y="515" class="n" fill="#dc143c">3</text>
<text x="649.7" y="530" class="n" fill="#dc143c">1</text>
<text x="649.7" y="545" class="n" fill="#dc143c">3</text>
<text x="649.7" y="560" class="n" fill="#dc143c">3</text>
<text x="649.7" y="575" class="n" fill="#dc143c">2</text>
<text x="649.7" y="590" class="n" fill="#dc143c">3</text>
<text x="649.7" y="605" class="n" fill="#dc143c">3</text>
<text x="649.7" y="620" class="n" fill="#ff00ff">8</text>
<text x="649.7" y="635" class="n" fill="#008a00">3</text>
<text x="649.7" y="650" class="n" fill="#008a00">3</text>
<text x="649.7" y="665" class="n" fill="#dc143c">2</text>
<text x="6.2" y="698" class="t" fill="#fff" stroke="#fff" textLength="23.9" lengthAdjust="spacingAndGlyphs">LLCnt</text>
<text x="29.8" y="698" class="t" fill="#fff" stroke="#fff" textLength="15.7" lengthAdjust="spacingAndGlyphs">(10)</text>
<text x="113.0" y="698.7" class="a" fill="#808080" textLength="18.4" lengthAdjust="spacingAndGlyphs" font-size="12">M1</text>
<text x="179.5" y="698.7" class="a" fill="#808080" textLength="18.5" lengthAdjust="spacingAndGlyphs" font-size="12">M5</text>
<text x="245.0" y="698.7" class="a" fill="#808080" textLength="26.5" lengthAdjust="spacingAndGlyphs" font-size="12">M15</text>
<text x="311.3" y="698.7" class="a" fill="#808080" textLength="26.2" lengthAdjust="spacingAndGlyphs" font-size="12">M30</text>
<text x="376.7" y="698.7" class="a" fill="#808080" textLength="16.6" lengthAdjust="spacingAndGlyphs" font-size="12">H1</text>
<text x="442.8" y="698.7" class="a" fill="#808080" textLength="17" lengthAdjust="spacingAndGlyphs" font-size="12">H4</text>
<text x="509" y="698.7" class="a" fill="#808080" textLength="16.3" lengthAdjust="spacingAndGlyphs" font-size="12">D1</text>
<text x="575.8" y="698.7" class="a" fill="#808080" textLength="20.5" lengthAdjust="spacingAndGlyphs" font-size="12">W1</text>
<text x="640.9" y="698.7" class="a" fill="#808080" textLength="20" lengthAdjust="spacingAndGlyphs" font-size="12">MN</text>
<text x="23.5" y="717.8" class="a" fill="#808080" textLength="48.3" lengthAdjust="spacingAndGlyphs" font-size="12">AUDJPY</text>
<text x="23.5" y="732.8" class="a" fill="#808080" textLength="53.1" lengthAdjust="spacingAndGlyphs" font-size="12">AUDUSD</text>
<text x="23.5" y="747.8" class="a" fill="#808080" textLength="49.4" lengthAdjust="spacingAndGlyphs" font-size="12">EURGBP</text>
<text x="23.5" y="762.8" class="a" fill="#808080" textLength="45.6" lengthAdjust="spacingAndGlyphs" font-size="12">EURJPY</text>
<text x="23.5" y="777.8" class="a" fill="#808080" textLength="50.7" lengthAdjust="spacingAndGlyphs" font-size="12">EURUSD</text>
<text x="23.5" y="792.8" class="a" fill="#808080" textLength="48.7" lengthAdjust="spacingAndGlyphs" font-size="12">GBPCHF</text>
<text x="23.5" y="807.8" class="a" fill="#808080" textLength="46.2" lengthAdjust="spacingAndGlyphs" font-size="12">GBPJPY</text>
<text x="23.5" y="822.8" class="a" fill="#808080" textLength="51.1" lengthAdjust="spacingAndGlyphs" font-size="12">GBPUSD</text>
<text x="23.5" y="837.8" class="a" fill="#808080" textLength="53.2" lengthAdjust="spacingAndGlyphs" font-size="12">NZDUSD</text>
<text x="23.5" y="852.8" class="a" fill="#808080" textLength="52.9" lengthAdjust="spacingAndGlyphs" font-size="12">USDCAD</text>
<text x="23.5" y="867.8" class="a" fill="#808080" textLength="51.1" lengthAdjust="spacingAndGlyphs" font-size="12">USDCHF</text>
<text x="23.5" y="882.8" class="a" fill="#808080" textLength="48.4" lengthAdjust="spacingAndGlyphs" font-size="12">USDJPY</text>
<text x="121.7" y="715" class="n" fill="#008a00">1</text>
<text x="121.7" y="730" class="n" fill="#008a00">1</text>
<text x="121.7" y="745" class="n" fill="#ffff00">0</text>
<text x="121.7" y="760" class="n" fill="#008a00">2</text>
<text x="121.7" y="775" class="n" fill="#008a00">2</text>
<text x="121.7" y="790" class="n" fill="#008a00">1</text>
<text x="121.7" y="805" class="n" fill="#008a00">2</text>
<text x="121.7" y="820" class="n" fill="#008a00">2</text>
<text x="121.7" y="835" class="n" fill="#008a00">1</text>
<text x="121.7" y="850" class="n" fill="#008a00">1</text>
<text x="121.7" y="865" class="n" fill="#dc143c">2</text>
<text x="121.7" y="880" class="n" fill="#ff00ff">5</text>
<text x="187.7" y="715" class="n" fill="#ffff00">0</text>
<text x="187.7" y="730" class="n" fill="#008a00">1</text>
<text x="187.7" y="745" class="n" fill="#008a00">1</text>
<text x="187.7" y="760" class="n" fill="#008a00">1</text>
<text x="187.7" y="775" class="n" fill="#008a00">1</text>
<text x="187.7" y="790" class="n" fill="#dc143c">3</text>
<text x="187.7" y="805" class="n" fill="#008a00">1</text>
<text x="187.7" y="820" class="n" fill="#008a00">1</text>
<text x="187.7" y="835" class="n" fill="#008a00">1</text>
<text x="187.7" y="850" class="n" fill="#008a00">2</text>
<text x="187.7" y="865" class="n" fill="#dc143c">1</text>
<text x="187.7" y="880" class="n" fill="#dc143c">2</text>
<text x="253.7" y="715" class="n" fill="#008a00">2</text>
<text x="253.7" y="730" class="n" fill="#008a00">2</text>
<text x="253.7" y="745" class="n" fill="#008a00">1</text>
<text x="253.7" y="760" class="n" fill="#008a00">3</text>
<text x="253.7" y="775" class="n" fill="#008a00">3</text>
<text x="253.7" y="790" class="n" fill="#ff00ff">5</text>
<text x="253.7" y="805" class="n" fill="#008a00">1</text>
<text x="253.7" y="820" class="n" fill="#008a00">2</text>
<text x="253.7" y="835" class="n" fill="#008a00">2</text>
<text x="253.7" y="850" class="n" fill="#008a00">2</text>
<text x="253.7" y="865" class="n" fill="#dc143c">3</text>
<text x="253.7" y="880" class="n" fill="#dc143c">2</text>
<text x="319.7" y="715" class="n" fill="#008a00">1</text>
<text x="319.7" y="730" class="n" fill="#008a00">1</text>
<text x="319.7" y="745" class="n" fill="#008a00">2</text>
<text x="319.7" y="760" class="n" fill="#008a00">2</text>
<text x="319.7" y="775" class="n" fill="#008a00">2</text>
<text x="319.7" y="790" class="n" fill="#ff00ff">4</text>
<text x="319.7" y="805" class="n" fill="#008a00">1</text>
<text x="319.7" y="820" class="n" fill="#008a00">1</text>
<text x="319.7" y="835" class="n" fill="#008a00">1</text>
<text x="319.7" y="850" class="n" fill="#00ff00">6</text>
<text x="319.7" y="865" class="n" fill="#dc143c">1</text>
<text x="319.7" y="880" class="n" fill="#ff00ff">4</text>
<text x="385.7" y="715" class="n" fill="#ff00ff">5</text>
<text x="385.7" y="730" class="n" fill="#ff00ff">5</text>
<text x="385.7" y="745" class="n" fill="#008a00">1</text>
<text x="385.7" y="760" class="n" fill="#008a00">1</text>
<text x="385.7" y="775" class="n" fill="#008a00">1</text>
<text x="385.7" y="790" class="n" fill="#ff00ff">4</text>
<text x="385.7" y="805" class="n" fill="#ff00ff">5</text>
<text x="385.7" y="820" class="n" fill="#dc143c">3</text>
<text x="385.7" y="835" class="n" fill="#ff00ff">5</text>
<text x="385.7" y="850" class="n" fill="#008a00">3</text>
<text x="385.7" y="865" class="n" fill="#008a00">2</text>
<text x="385.7" y="880" class="n" fill="#ff00ff">5</text>
<text x="451.7" y="715" class="n" fill="#dc143c">3</text>
<text x="451.7" y="730" class="n" fill="#dc143c">3</text>
<text x="451.7" y="745" class="n" fill="#dc143c">3</text>
<text x="451.7" y="760" class="n" fill="#dc143c">2</text>
<text x="451.7" y="775" class="n" fill="#dc143c">3</text>
<text x="451.7" y="790" class="n" fill="#dc143c">1</text>
<text x="451.7" y="805" class="n" fill="#dc143c">2</text>
<text x="451.7" y="820" class="n" fill="#dc143c">1</text>
<text x="451.7" y="835" class="n" fill="#dc143c">3</text>
<text x="451.7" y="850" class="n" fill="#008a00">1</text>
<text x="451.7" y="865" class="n" fill="#00ff00">7</text>
<text x="451.7" y="880" class="n" fill="#dc143c">2</text>
<text x="517.7" y="715" class="n" fill="#dc143c">1</text>
<text x="517.7" y="730" class="n" fill="#dc143c">1</text>
<text x="517.7" y="745" class="n" fill="#008a00">1</text>
<text x="517.7" y="760" class="n" fill="#dc143c">2</text>
<text x="517.7" y="775" class="n" fill="#dc143c">2</text>
<text x="517.7" y="790" class="n" fill="#00ff00">4</text>
<text x="517.7" y="805" class="n" fill="#dc143c">2</text>
<text x="517.7" y="820" class="n" fill="#dc143c">2</text>
<text x="517.7" y="835" class="n" fill="#00ff00">4</text>
<text x="517.7" y="850" class="n" fill="#008a00">1</text>
<text x="517.7" y="865" class="n" fill="#008a00">3</text>
<text x="517.7" y="880" class="n" fill="#dc143c">1</text>
<text x="583.7" y="715" class="n" fill="#008a00">2</text>
<text x="583.7" y="730" class="n" fill="#008a00">2</text>
<text x="583.7" y="745" class="n" fill="#dc143c">1</text>
<text x="583.7" y="760" class="n" fill="#008a00">2</text>
<text x="583.7" y="775" class="n" fill="#dc143c">1</text>
<text x="583.7" y="790" class="n" fill="#008a00">2</text>
<text x="583.7" y="805" class="n" fill="#008a00">2</text>
<text x="583.7" y="820" class="n" fill="#008a00">2</text>
<text x="583.7" y="835" class="n" fill="#008a00">2</text>
<text x="583.7" y="850" class="n" fill="#00ff00">4</text>
<text x="583.7" y="865" class="n" fill="#00ff00">4</text>
<text x="583.7" y="880" class="n" fill="#008a00">2</text>
<text x="649.7" y="715" class="n" fill="#dc143c">3</text>
<text x="649.7" y="730" class="n" fill="#dc143c">3</text>
<text x="649.7" y="745" class="n" fill="#dc143c">1</text>
<text x="649.7" y="760" class="n" fill="#dc143c">3</text>
<text x="649.7" y="775" class="n" fill="#dc143c">3</text>
<text x="649.7" y="790" class="n" fill="#dc143c">3</text>
<text x="649.7" y="805" class="n" fill="#dc143c">3</text>
<text x="649.7" y="820" class="n" fill="#dc143c">3</text>
<text x="649.7" y="835" class="n" fill="#ff00ff">7</text>
<text x="649.7" y="850" class="n" fill="#00ff00">5</text>
<text x="649.7" y="865" class="n" fill="#008a00">3</text>
<text x="649.7" y="880" class="n" fill="#dc143c">2</text>
<text x="755" y="265" class="t" fill="#fff" stroke="#fff">1</text>
<text x="755" y="480" class="t" fill="#fff" stroke="#fff">1</text>
<text x="755" y="695" class="t" fill="#fff" stroke="#fff">1</text>
<text x="754.5" y="464" class="t" fill="#fff" stroke="#fff">0</text>
<text x="754.5" y="679" class="t" fill="#fff" stroke="#fff">0</text>
<text x="754.5" y="906" class="t" fill="#fff" stroke="#fff">0</text>
<text x="5.2" y="904" class="t" fill="#fff" stroke="#fff" textLength="49.7" lengthAdjust="spacingAndGlyphs">Metatrader,</text>
<text x="59.2" y="904" class="t" fill="#fff" stroke="#fff" textLength="9.2" lengthAdjust="spacingAndGlyphs">©</text>
<text x="71.3" y="904" class="t" fill="#fff" stroke="#fff" textLength="43.7" lengthAdjust="spacingAndGlyphs">2001-2008</text>
<text x="118.2" y="904" class="t" fill="#fff" stroke="#fff" textLength="53.3" lengthAdjust="spacingAndGlyphs">MetaQuotes</text>
<text x="174.5" y="904" class="t" fill="#fff" stroke="#fff" textLength="40.1" lengthAdjust="spacingAndGlyphs">Software</text>
<text x="217.6" y="904" class="t" fill="#fff" stroke="#fff" textLength="26.2" lengthAdjust="spacingAndGlyphs">Corp.</text>
<text x="1.5" y="922" class="t" fill="#fff" stroke="#fff" textLength="51" lengthAdjust="spacingAndGlyphs">20 Oct 2008</text>
<text x="65.5" y="922" class="t" fill="#fff" stroke="#fff" textLength="54" lengthAdjust="spacingAndGlyphs">20 Oct 19:00</text>
<text x="129.5" y="922" class="t" fill="#fff" stroke="#fff" textLength="54" lengthAdjust="spacingAndGlyphs">20 Oct 21:00</text>
<text x="193.5" y="922" class="t" fill="#fff" stroke="#fff" textLength="54" lengthAdjust="spacingAndGlyphs">20 Oct 23:00</text>
<text x="257.5" y="922" class="t" fill="#fff" stroke="#fff" textLength="54" lengthAdjust="spacingAndGlyphs">21 Oct 01:00</text>
<text x="321.5" y="922" class="t" fill="#fff" stroke="#fff" textLength="54" lengthAdjust="spacingAndGlyphs">21 Oct 03:00</text>
<text x="385.5" y="922" class="t" fill="#fff" stroke="#fff" textLength="54" lengthAdjust="spacingAndGlyphs">21 Oct 05:00</text>
<text x="449.5" y="922" class="t" fill="#fff" stroke="#fff" textLength="54" lengthAdjust="spacingAndGlyphs">21 Oct 07:00</text>
<text x="513.5" y="922" class="t" fill="#fff" stroke="#fff" textLength="54" lengthAdjust="spacingAndGlyphs">21 Oct 09:00</text>
</svg>
</body></html>
